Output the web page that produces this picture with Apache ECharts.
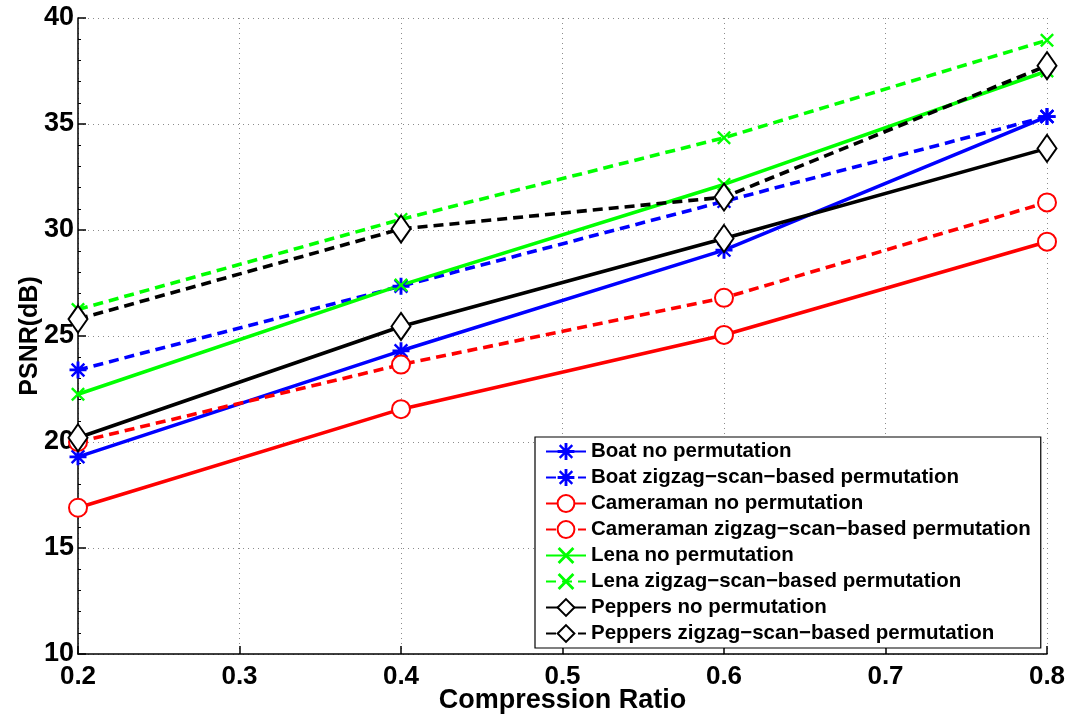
<!DOCTYPE html>
<html>
<head>
<meta charset="utf-8">
<script src="https://cdn.jsdelivr.net/npm/echarts@6/dist/echarts.min.js"></script>
<style>
html,body{margin:0;padding:0;background:#fff;}
#chart{width:1070px;height:719px;}
</style>
</head>
<body>
<div id="chart"></div>
<script>
const ratios = [0.2, 0.4, 0.6, 0.8];
const boatNo = [19.3, 24.3, 29.05, 35.35];
const boatZig = [23.4, 27.35, 31.35, 35.35];
const camNo = [16.9, 21.55, 25.05, 29.45];
const camZig = [20.0, 23.65, 26.8, 31.3];
const lenaNo = [22.25, 27.4, 32.15, 37.5];
const lenaZig = [26.25, 30.5, 34.35, 38.95];
const pepNo = [20.2, 25.45, 29.6, 33.85];
const pepZig = [25.8, 30.05, 31.55, 37.75];
const seriesNames = [
  'Boat no permutation',
  'Boat zigzag\u2212scan\u2212based permutation',
  'Cameraman no permutation',
  'Cameraman zigzag\u2212scan\u2212based permutation',
  'Lena no permutation',
  'Lena zigzag\u2212scan\u2212based permutation',
  'Peppers no permutation',
  'Peppers zigzag\u2212scan\u2212based permutation'
];

const FONT = '"Liberation Sans", Arial, Helvetica, sans-serif';
const STAR = 'path://M0,8.3 L20,8.3 L20,11.7 L0,11.7 Z M8.3,0 L11.7,0 L11.7,20 L8.3,20 Z M1.5,3.5 L3.5,1.5 L18.5,16.5 L16.5,18.5 Z M16.5,1.5 L18.5,3.5 L3.5,18.5 L1.5,16.5 Z';
const CROSS = 'path://M2.4,0 L10,7.6 L17.6,0 L20,2.4 L12.4,10 L20,17.6 L17.6,20 L10,12.4 L2.4,20 L0,17.6 L7.6,10 L0,2.4 Z';

function pts(arr){ return ratios.map((r,i)=>[r, arr[i]]); }

function mk(name, data, color, dashed, symbol, size, filled){
  return {
    name: name,
    type: 'line',
    data: pts(data),
    color: color,
    symbol: symbol,
    symbolSize: size,
    showAllSymbol: true,
    lineStyle: {color: color, width: 3.6, type: dashed ? [10, 6] : 'solid'},
    itemStyle: filled ? {color: color, borderWidth: 0} : {color: color, borderColor: color, borderWidth: 3.8},
    emphasis: {disabled: true},
    animation: false
  };
}

const series = [
  mk(seriesNames[0], boatNo, '#0000ff', false, STAR, 17, true),
  mk(seriesNames[1], boatZig, '#0000ff', true, STAR, 17, true),
  mk(seriesNames[2], camNo, '#ff0000', false, 'emptyCircle', 18, false),
  mk(seriesNames[3], camZig, '#ff0000', true, 'emptyCircle', 18, false),
  mk(seriesNames[4], lenaNo, '#00ff00', false, CROSS, 14, true),
  mk(seriesNames[5], lenaZig, '#00ff00', true, CROSS, 14, true),
  mk(seriesNames[6], pepNo, '#000000', false, 'emptyDiamond', [19, 27], false),
  mk(seriesNames[7], pepZig, '#000000', true, 'emptyDiamond', [19, 27], false)
];

const chart = echarts.init(document.getElementById('chart'), null, {renderer: 'canvas'});
chart.setOption({
  backgroundColor: '#ffffff',
  animation: false,
  grid: {left: 78, right: 23, top: 18, bottom: 65, containLabel: false, outerBoundsMode: 'none'},
  xAxis: {
    type: 'value', min: 0.2, max: 0.8, interval: 0.1,
    name: 'Compression Ratio', nameLocation: 'middle', nameGap: 33, nameMoveOverlap: false,
    nameTextStyle: {fontFamily: FONT, fontWeight: 'bold', fontSize: 27, color: '#000'},
    axisLine: {show: true, onZero: false, lineStyle: {color: '#000', width: 1.5}},
    axisTick: {show: true, inside: true, length: 8, lineStyle: {color: '#000', width: 1.5}},
    axisLabel: {fontFamily: FONT, fontWeight: 'bold', fontSize: 26, color: '#000', margin: 10,
      formatter: v => v.toFixed(1)},
    splitLine: {show: true, lineStyle: {color: '#8c8c8c', type: [1, 4], width: 1}}
  },
  yAxis: {
    type: 'value', min: 10, max: 40, interval: 5,
    name: 'PSNR(dB)', nameLocation: 'middle', nameGap: 35, nameMoveOverlap: false,
    nameTextStyle: {fontFamily: FONT, fontWeight: 'bold', fontSize: 25, color: '#000'},
    axisLine: {show: true, onZero: false, lineStyle: {color: '#000', width: 1.5}},
    axisTick: {show: true, inside: true, length: 8, lineStyle: {color: '#000', width: 1.5}},
    minorTick: {show: true, splitNumber: 5, length: 3, lineStyle: {color: '#000'}},
    axisLabel: {fontFamily: FONT, fontWeight: 'bold', fontSize: 27, color: '#000', margin: 4},
    splitLine: {show: true, lineStyle: {color: '#8c8c8c', type: [1, 4], width: 1}}
  },
  legend: {
    orient: 'vertical',
    left: 535, top: 437,
    padding: [4, 10, 4, 10],
    itemWidth: 40, itemHeight: 21, itemGap: 5,
    backgroundColor: '#ffffff',
    borderColor: '#000', borderWidth: 1.2,
    textStyle: {fontFamily: FONT, fontWeight: 'bold', fontSize: 20.5, color: '#000'},
    data: seriesNames,
    selectedMode: false
  },
  series: series
});
</script>
</body>
</html>
